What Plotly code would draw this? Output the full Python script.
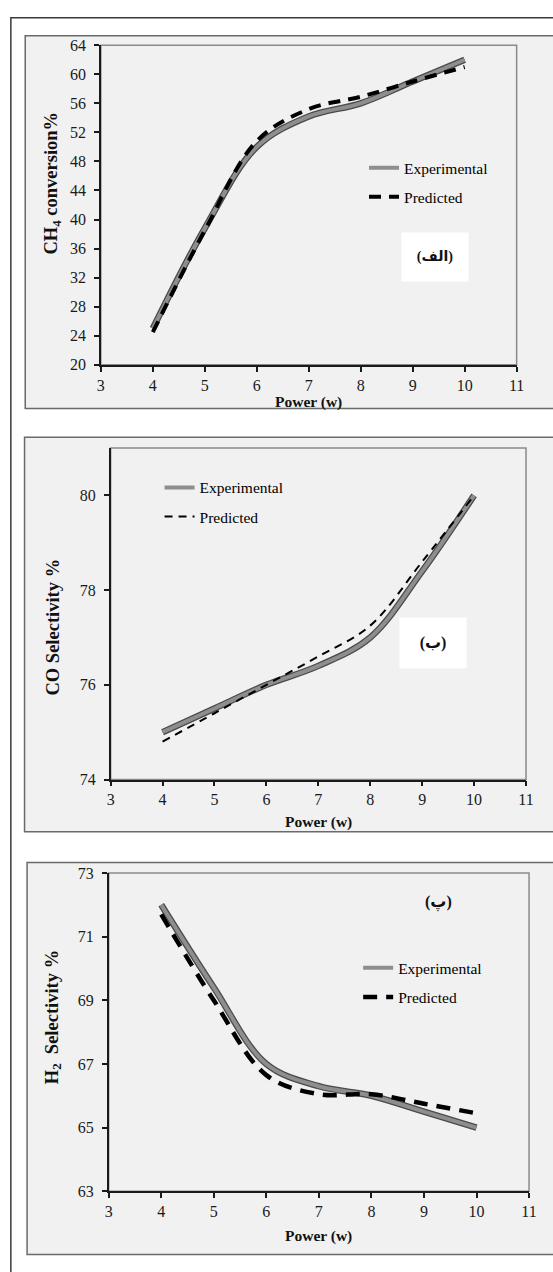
import plotly.graph_objects as go

W, H = 553, 1272

# ---------------- data ----------------
power = [4, 5, 6, 7, 8, 9, 10]

ch4_experimental = [25.0, 38.8, 50.0, 54.2, 56.0, 59.0, 62.0]
ch4_predicted = [24.5, 38.5, 50.8, 55.2, 56.9, 59.0, 61.0]

co_experimental = [75.0, 75.5, 76.0, 76.4, 77.0, 78.4, 80.0]
co_predicted = [74.8, 75.4, 76.0, 76.6, 77.25, 78.6, 80.0]

h2_experimental = [72.0, 69.4, 67.0, 66.3, 66.0, 65.5, 65.0]
h2_predicted = [71.7, 69.0, 66.65, 66.05, 66.05, 65.75, 65.45]

x_ticks = [3, 4, 5, 6, 7, 8, 9, 10, 11]
ch4_ticks = [20, 24, 28, 32, 36, 40, 44, 48, 52, 56, 60, 64]
co_ticks = [74, 76, 78, 80]
h2_ticks = [63, 65, 67, 69, 71, 73]

SERIF = "Liberation Serif, Times New Roman, serif"
ARABIC = "Liberation Serif, DejaVu Sans, serif"


def fx(p):
    return p / W


def fy(p):
    return 1 - p / H


fig = go.Figure()

panels = [
    dict(xa="x", ya="y", leg="legend", exp=ch4_experimental, pred=ch4_predicted,
         pred_w=4, pred_dash="12px,8px"),
    dict(xa="x2", ya="y2", leg="legend2", exp=co_experimental, pred=co_predicted,
         pred_w=2, pred_dash="8px,6px"),
    dict(xa="x3", ya="y3", leg="legend3", exp=h2_experimental, pred=h2_predicted,
         pred_w=4.5, pred_dash="14px,9px"),
]

for p in panels:
    # dark outline under the experimental curve
    fig.add_trace(go.Scatter(x=power, y=p["exp"], mode="lines", xaxis=p["xa"], yaxis=p["ya"],
                             line=dict(color="#4a4a4a", width=6.5, shape="spline"),
                             showlegend=False, hoverinfo="skip"))
    fig.add_trace(go.Scatter(x=power, y=p["exp"], mode="lines", name="Experimental",
                             xaxis=p["xa"], yaxis=p["ya"], legend=p["leg"],
                             legendgroup="exp" + p["leg"],
                             line=dict(color="#8e8e8e", width=4, shape="spline")))
    fig.add_trace(go.Scatter(x=power, y=p["pred"], mode="lines", name="Predicted",
                             xaxis=p["xa"], yaxis=p["ya"], legend=p["leg"],
                             legendgroup="pred" + p["leg"],
                             line=dict(color="#000000", width=p["pred_w"], dash=p["pred_dash"],
                                       shape="spline")))

axis_common = dict(showline=True, linecolor="#1a1a1a", linewidth=1.5, ticks="outside",
                   ticklen=5, tickwidth=1.5, tickcolor="#1a1a1a", showgrid=False,
                   zeroline=False, fixedrange=True,
                   tickfont=dict(family=SERIF, size=16, color="#1a1a1a"))

# plot-area pixel boxes: (left, right, top, bottom)
boxes = [(99, 524, 37.7, 361.7), (109, 533.6, 446, 782), (107, 536.7, 876.7, 1199.3)]
yranges = [[20, 64], [74, 81], [63, 73]]
yticks = [ch4_ticks, co_ticks, h2_ticks]

layout_axes = {}
for i, (b, yr, yt) in enumerate(zip(boxes, yranges, yticks)):
    sfx = "" if i == 0 else str(i + 1)
    l, r, t, bt = b
    layout_axes["xaxis" + sfx] = dict(axis_common, domain=[fx(l), fx(r)], range=[3, 11],
                                      tickvals=x_ticks, anchor="y" + sfx,
                                      ticklabelstandoff=0)
    layout_axes["yaxis" + sfx] = dict(axis_common, domain=[fy(bt), fy(t)], range=yr,
                                      tickvals=yt, anchor="x" + sfx,
                                      ticklabelstandoff=5)

fig.update_layout(**layout_axes)

shapes = []
# outer frame
shapes.append(dict(type="rect", xref="paper", yref="paper", x0=fx(7), x1=1.05, y0=-0.05, y1=fy(10),
                   line=dict(color="#3a3a3a", width=1.5), fillcolor="white", layer="below"))
# inner panel frames
for (l, t, bt) in [(21.7, 28, 406), (21, 435, 835), (23.6, 866, 1263.5)]:
    shapes.append(dict(type="rect", xref="paper", yref="paper", x0=fx(l), x1=1.05,
                       y0=fy(bt), y1=fy(t), line=dict(color="#6a6a6a", width=1.5),
                       fillcolor="#f1f1f1", layer="below"))
# gray plot-area borders
for sfx in ["", "2", "3"]:
    shapes.append(dict(type="rect", xref="x" + sfx + " domain", yref="y" + sfx + " domain",
                       x0=0, x1=1, y0=0, y1=1, line=dict(color="#8a8a8a", width=1.5),
                       fillcolor="rgba(0,0,0,0)", layer="below"))

annotations = []
# y-axis titles
for text, yc in [("CH<sub>4</sub> conversion%", 177), ("CO Selectivity %", 627),
                 ("H<sub>2</sub>  Selectivity %", 1023)]:
    annotations.append(dict(text="<b>" + text + "</b>", xref="paper", yref="paper",
                            x=fx(50), y=fy(yc), xanchor="center", yanchor="middle",
                            textangle=-90, showarrow=False,
                            font=dict(family=SERIF, size=18.5, color="#111111")))
# x-axis titles
for xc, yc in [(311.6, 399), (321, 825), (321.7, 1245)]:
    annotations.append(dict(text="<b>Power (w)</b>", xref="paper", yref="paper",
                            x=fx(xc), y=fy(yc), xanchor="center", yanchor="middle",
                            showarrow=False,
                            font=dict(family=SERIF, size=15.5, color="#111111")))
# panel letters
annotations.append(dict(text="<b>(الف)</b>", xref="paper", yref="paper", x=fx(441), y=fy(252),
                        xanchor="center", yanchor="middle", showarrow=False, bgcolor="white",
                        width=64, height=46, font=dict(family=ARABIC, size=14, color="#111111")))
annotations.append(dict(text="<b>(ب)</b>", xref="paper", yref="paper", x=fx(439), y=fy(644),
                        xanchor="center", yanchor="middle", showarrow=False, bgcolor="white",
                        width=64, height=48, font=dict(family=ARABIC, size=16, color="#111111")))
annotations.append(dict(text="<b>(پ)</b>", xref="paper", yref="paper", x=fx(444), y=fy(907),
                        xanchor="center", yanchor="middle", showarrow=False,
                        font=dict(family=ARABIC, size=16, color="#111111")))

legend_common = dict(xanchor="left", yanchor="middle", bgcolor="rgba(0,0,0,0)",
                     borderwidth=0, traceorder="grouped", tracegroupgap=6,
                     font=dict(family=SERIF, size=15.5, color="#000000"))

fig.update_layout(
    width=W, height=H, autosize=False,
    margin=dict(l=0, r=0, t=0, b=0),
    paper_bgcolor="white", plot_bgcolor="#fbfbfb",
    shapes=shapes, annotations=annotations,
    legend=dict(legend_common, x=fx(368), y=fy(177)),
    legend2=dict(legend_common, x=fx(159), y=fy(501)),
    legend3=dict(legend_common, x=fx(362), y=fy(988)),
    showlegend=True,
)

fig.write_html("out.html")
